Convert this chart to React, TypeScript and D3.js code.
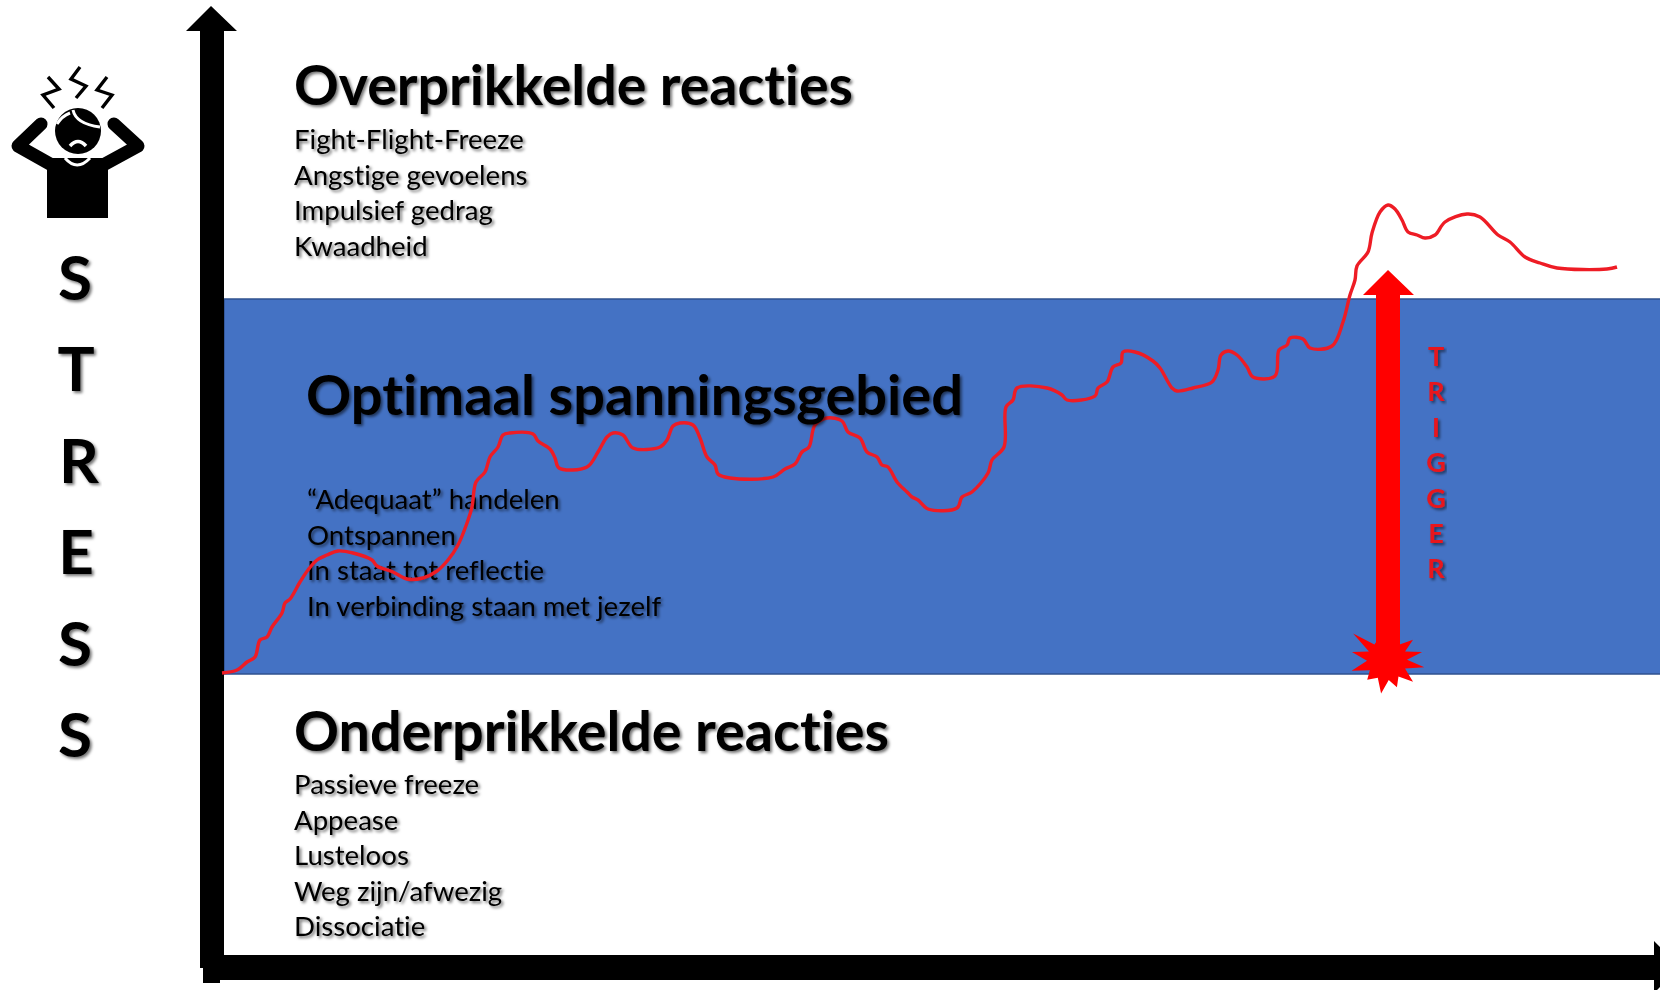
import * as d3 from 'd3';

// stress curve
const curveTime = [-2, 13, 23, 31, 36, 43, 48, 58, 61, 66, 76, 84, 93, 103, 114, 129, 148, 153, 169, 183, 199, 213, 224, 234, 243, 248, 252, 261, 266, 274, 279, 286, 309, 314, 326, 331, 335, 363, 374, 383, 389, 399, 409, 436, 443, 449, 456, 469, 476, 483, 491, 494, 506, 549, 561, 571, 578, 585, 591, 603, 618, 624, 636, 643, 653, 658, 664, 673, 683, 688, 694, 704, 733, 738, 748, 764, 768, 780, 782, 789, 793, 823, 838, 843, 871, 874, 883, 889, 897, 899, 911, 929, 936, 948, 953, 969, 988, 994, 997, 1004, 1013, 1023, 1029, 1051, 1055, 1063, 1066, 1079, 1086, 1108, 1119, 1126, 1131, 1133, 1144, 1148, 1156, 1164, 1171, 1178, 1184, 1193, 1201, 1211, 1221, 1243, 1256, 1274, 1286, 1301, 1316, 1333, 1383, 1393];
const curveStress = [282, 285, 293, 298, 315, 318, 328, 342, 352, 356, 373, 385, 395, 400, 404, 402, 395, 389, 383, 376, 377, 384, 395, 410, 432, 448, 473, 483, 498, 508, 520, 522, 521, 514, 506, 497, 487, 488, 503, 518, 522, 520, 507, 508, 515, 529, 532, 530, 517, 498, 490, 481, 477, 478, 486, 491, 503, 508, 530, 537, 534, 523, 517, 503, 498, 490, 488, 473, 463, 458, 455, 446, 447, 458, 463, 482, 495, 508, 548, 555, 567, 567, 560, 555, 559, 567, 573, 588, 592, 603, 603, 594, 587, 567, 564, 567, 573, 585, 600, 604, 600, 588, 578, 579, 605, 610, 617, 616, 607, 609, 633, 660, 675, 689, 703, 722, 743, 750, 746, 735, 723, 720, 717, 720, 733, 741, 738, 720, 713, 698, 692, 687, 686, 688];

const bandRange = [281, 656];
const triggerTime = 1164;
const triggerRange = [295, 685];
const burstAngles = [0, 26, 52, 77, 101, 130, 160, 190, 225, 253, 283, 308, 334];
const burstOuter = [20, 22, 33, 36, 38, 34, 29, 34, 28, 37, 36, 43, 22];
const burstInner = 20;

const overTitle = 'Overprikkelde reacties';
const overItems = ['Fight-Flight-Freeze', 'Angstige gevoelens', 'Impulsief gedrag', 'Kwaadheid'];
const optimalTitle = 'Optimaal spanningsgebied';
const optimalItems = ['“Adequaat” handelen', 'Ontspannen', 'In staat tot reflectie', 'In verbinding staan met jezelf'];
const underTitle = 'Onderprikkelde reacties';
const underItems = ['Passieve freeze', 'Appease', 'Lusteloos', 'Weg zijn/afwezig', 'Dissociatie'];
const stressLetters = ['S', 'T', 'R', 'E', 'S', 'S'];
const stressLetterX = [75, 76, 79, 76, 75, 75];
const triggerLetters = ['T', 'R', 'I', 'G', 'G', 'E', 'R'];

const width = 1660;
const height = 990;
const fontFamily = 'Lato, "Open Sans", sans-serif';

const x = d3.scaleLinear().domain([0, 1436]).range([224, 1660]);
const y = d3.scaleLinear().domain([0, 955]).range([955, 0]);

const curvePoints = curveTime.map((t, i) => [t, curveStress[i]] as [number, number]);
const stressLine = d3.line<[number, number]>()
  .x(d => x(d[0]))
  .y(d => y(d[1]))
  .curve(d3.curveCatmullRom.alpha(0.5));

// spikes and the notches between them
const burstPoints: [number, number][] = burstAngles.flatMap((a, i) => {
  const next = i + 1 < burstAngles.length ? burstAngles[i + 1] : 360;
  return [
    [a * Math.PI / 180, burstOuter[i]],
    [((a + next) / 2) * Math.PI / 180, burstInner],
  ] as [number, number][];
});
const burstPath = d3.lineRadial().curve(d3.curveLinearClosed)(burstPoints);

const iconLine = d3.line();
const bolts: [number, number][][] = [
  [[48, 77], [59, 89], [43, 95], [54, 108]],
  [[80, 67], [71, 79], [86, 86], [76, 98]],
  [[107, 77], [97, 90], [112, 95], [102, 108]],
];

function Person() {
  return (
    <g>
      {bolts.map((b, i) => (
        <path key={i} d={iconLine(b)!} fill="none" stroke="#000" strokeWidth={3.4} />
      ))}
      <path d="M41,124 L18,146 L50,164" fill="none" stroke="#000" strokeWidth={13} strokeLinecap="round" strokeLinejoin="round" />
      <path d="M114,124 L138,146 L105,164" fill="none" stroke="#000" strokeWidth={13} strokeLinecap="round" strokeLinejoin="round" />
      <rect x={47} y={158} width={61} height={60} fill="#000" />
      <circle cx={78} cy={131} r={23} fill="#000" />
      <path d="M65,158 Q77,172 90,158" fill="none" stroke="#fff" strokeWidth={3} />
      <path d="M73,110 Q76,124 100,127" fill="none" stroke="#fff" strokeWidth={3} />
      <path d="M57,124 Q62,116 70,113" fill="none" stroke="#fff" strokeWidth={3} />
      <path d="M70,146 Q78,137 86,146" fill="none" stroke="#fff" strokeWidth={3.4} />
    </g>
  );
}

function Title({ text, tx, ty, len }: any) {
  return (
    <text x={tx} y={ty} fontFamily={fontFamily} fontSize={55} fontWeight={700} textLength={len} lengthAdjust="spacingAndGlyphs" filter="url(#shadow)" style={{ fontVariantLigatures: 'none' }}>
      {text}
    </text>
  );
}

function Items({ items, itemX, firstY }: any) {
  return (
    <g fontFamily={fontFamily} fontSize={27.6} filter="url(#shadow)" style={{ fontVariantLigatures: 'none' }}>
      {items.map((d: string, i: number) => (
        <text key={d} x={itemX} y={firstY + i * 35.5}>{d}</text>
      ))}
    </g>
  );
}

export default function App() {
  const bandTop = y(bandRange[1]);
  const bandBottom = y(bandRange[0]);
  const tx = x(triggerTime);
  const tipY = y(triggerRange[1]);
  const baseY = y(triggerRange[0]);

  return (
    <svg
      width={width}
      height={height}
      viewBox={`0 0 ${width} ${height}`}
      style={{ position: 'fixed', left: 0, top: 0, background: '#fff' }}
    >
      <defs>
        <filter id="shadow" x="-5%" y="-20%" width="110%" height="140%">
          <feGaussianBlur in="SourceGraphic" stdDeviation="0.5" result="soft" />
          <feDropShadow in="soft" dx="2" dy="2" stdDeviation="1.8" floodColor="#000" floodOpacity="0.55" />
        </filter>
      </defs>

      <rect x={x(0)} y={bandTop} width={width - x(0) + 4} height={bandBottom - bandTop} fill="#4472C4" stroke="#2F528F" strokeWidth={1.5} />

      <Person />

      {/* axes */}
      <path d="M200,968 L200,31 L186,31 L211,6 L237,31 L224,31 L224,955 L1654,955 L1654,941 L1680,967 L1654,993 L1654,980 L220,980 L220,983 L203,983 L203,968 Z" fill="#000" />

      <g fontFamily={fontFamily} fontWeight={700} fontSize={62} textAnchor="middle" filter="url(#shadow)">
        {stressLetters.map((d, i) => (
          <text key={i} x={stressLetterX[i]} y={300 + i * 91.4}>{d}</text>
        ))}
      </g>

      <Title text={overTitle} tx={294} ty={105} len={559} />
      <Items items={overItems} itemX={294} firstY={149} />
      <Items items={optimalItems} itemX={307} firstY={509} />
      <Title text={underTitle} tx={294} ty={751} len={595} />
      <Items items={underItems} itemX={294} firstY={794} />

      <path d={stressLine(curvePoints)!} fill="none" stroke="#EE1C25" strokeWidth={3.4} strokeLinejoin="round" />

      <Title text={optimalTitle} tx={306} ty={415} len={657} />

      {/* trigger arrow */}
      <path d={`M${tx - 12},${baseY} L${tx - 12},${tipY + 25} L${tx - 25},${tipY + 25} L${tx},${tipY} L${tx + 26},${tipY + 25} L${tx + 12},${tipY + 25} L${tx + 12},${baseY} Z`} fill="#FF0000" />
      <path d={burstPath!} transform={`translate(${tx - 1},${baseY})`} fill="#FF0000" />

      <g fontFamily={fontFamily} fontWeight={700} fontSize={27} textAnchor="middle" fill="#E8141C" filter="url(#shadow)">
        {triggerLetters.map((d, i) => (
          <text key={i} x={1436} y={366 + i * 35.4}>{d}</text>
        ))}
      </g>
    </svg>
  );
}
